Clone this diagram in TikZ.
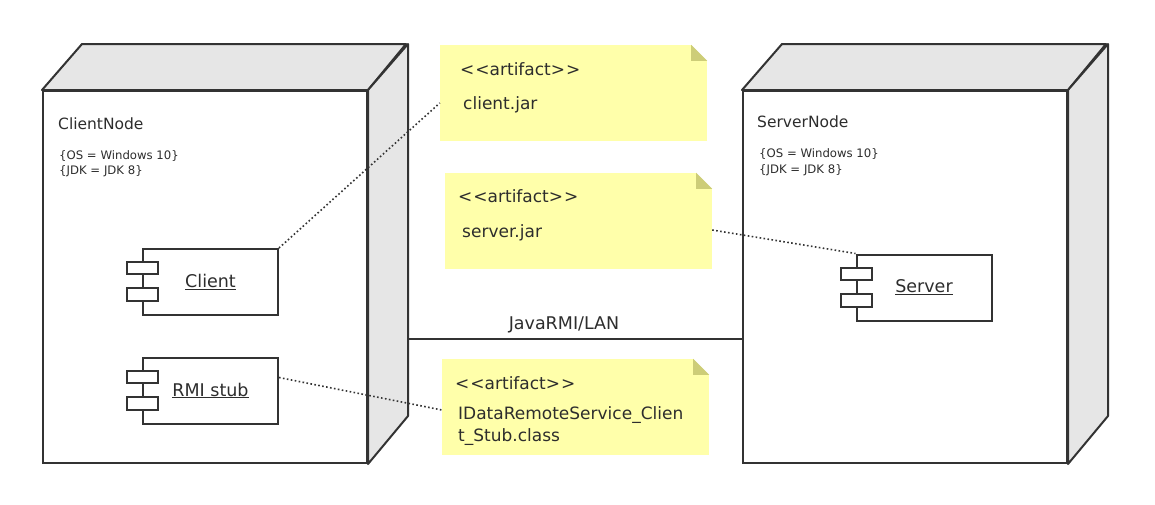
\documentclass[tikz,border=0pt]{standalone}
\usepackage{fontspec}
\setmainfont{DejaVu Sans}
\usetikzlibrary{positioning, calc}
\definecolor{edgegray}{RGB}{51,51,51}
\definecolor{sidegray}{RGB}{230,230,230}
\definecolor{noteyellow}{RGB}{255,255,170}
\definecolor{foldolive}{RGB}{205,205,120}
\definecolor{textgray}{RGB}{45,45,45}

\tikzset{
    nodeface/.style={draw=edgegray, line width=2pt, fill=white, minimum width=324pt, minimum height=372pt, inner sep=0pt},
    nodeside/.style={draw=edgegray, line width=2pt, fill=sidegray, line join=round},
    comp/.style={draw=edgegray, line width=2pt, fill=white, minimum width=135pt, minimum height=66pt, inner sep=0pt, text=textgray, font=\fontsize{17.5}{20}\selectfont},
    tab/.style={draw=edgegray, line width=2pt, fill=white},
    note/.style={fill=noteyellow, minimum width=267pt, minimum height=96pt, inner sep=0pt},
    notetext/.style={anchor=base west, inner sep=0pt, text=textgray, font=\fontsize{17}{20}\selectfont},
    title/.style={anchor=base west, inner sep=0pt, text=textgray, font=\fontsize{15.5}{18}\selectfont},
    props/.style={anchor=base west, inner sep=0pt, text=textgray, font=\fontsize{11.7}{14}\selectfont},
    trace/.style={draw=edgegray, line width=1.6pt, dash pattern=on 1.6pt off 2.4pt},
    link/.style={draw=edgegray, line width=2pt}
}
\newcommand{\stereo}[1]{{<}\kern1pt{<}#1{>}\kern1pt{>}}

\begin{document}
\begin{tikzpicture}[x=1pt, y=-1pt]
    \useasboundingbox (0,0) rectangle (1155,504);

    % Draw the two nodes as boxes
    \node[nodeface] (clientnode) at (205,277) {};
    \node[nodeface] (servernode) at (905,277) {};
    \foreach \n in {clientnode, servernode} {
        \filldraw[nodeside] (\n.north west) -- ++(40,-46) -- ++(324,0) -- (\n.north east) -- cycle;
        \filldraw[nodeside] (\n.north east) -- ++(40,-46) -- ++(0,372) -- (\n.south east) -- cycle;
    }

    % Node names and properties
    \node[title] (clienttitle) at (58,129) {ClientNode};
    \node[props] (clientos) at (59,159) {\{OS = Windows 10\}};
    \node[props] (clientjdk) at (59,174) {\{JDK = JDK 8\}};
    \node[title] (servertitle) at (757,127) {ServerNode};
    \node[props] (serveros) at (759,157) {\{OS = Windows 10\}};
    \node[props] (serverjdk) at (759,173) {\{JDK = JDK 8\}};

    % Components
    \node[comp] (client) at (210.5,282) {\underline{Client}};
    \node[comp] (stub) at (210.5,390.5) {\underline{RMI stub}};
    \node[comp] (server) at (924,287.5) {\underline{Server}};
    \foreach \c in {client, stub, server} {
        \draw[tab] ($(\c.north west)+(-15,14)$) rectangle ++(31,12);
        \draw[tab] ($(\c.north west)+(-15,40)$) rectangle ++(31,13);
    }

    % Communication path
    \coordinate (linkstart) at ($(clientnode.east)+(40,62)$);
    \draw[link] (linkstart) -- (linkstart -| servernode.west);
    \node[anchor=base, inner sep=0pt, text=textgray, font=\fontsize{17.5}{20}\selectfont] (javarmi) at (564,329) {JavaRMI/LAN};

    % Artifact notes
    \node[note] (clientjar) at (573.5,93) {};
    \node[note] (serverjar) at (578.5,221) {};
    \node[note] (stubclass) at (575.5,407) {};
    \foreach \n in {clientjar, serverjar, stubclass} {
        \fill[white] ($(\n.north east)+(-16,0)$) -- (\n.north east) -- ++(0,16) -- cycle;
        \fill[foldolive] ($(\n.north east)+(-16,0)$) -- ++(0,16) -- ++(16,0) -- cycle;
    }
    \node[notetext] (clientjarst) at (460,75) {\stereo{artifact}};
    \node[notetext] (clientjarname) at (463,109) {client.jar};
    \node[notetext] (serverjarst) at (458,202) {\stereo{artifact}};
    \node[notetext] (serverjarname) at (462,237) {server.jar};
    \node[notetext] (stubclassst) at (455,389) {\stereo{artifact}};
    \node[notetext] (stubclassa) at (458,419) {IDataRemoteService\_Clien};
    \node[notetext] (stubclassb) at (458,441) {t\_Stub.class};

    % Dotted traces from components to artifacts
    \draw[trace] (client.north east) -- ($(clientjar.west)+(0,10)$);
    \draw[trace] ($(serverjar.east)+(0,9)$) -- (server.north west);
    \draw[trace] ($(stub.east)+(0,-13)$) -- ($(stubclass.west)+(0,3)$);
\end{tikzpicture}
\end{document}
